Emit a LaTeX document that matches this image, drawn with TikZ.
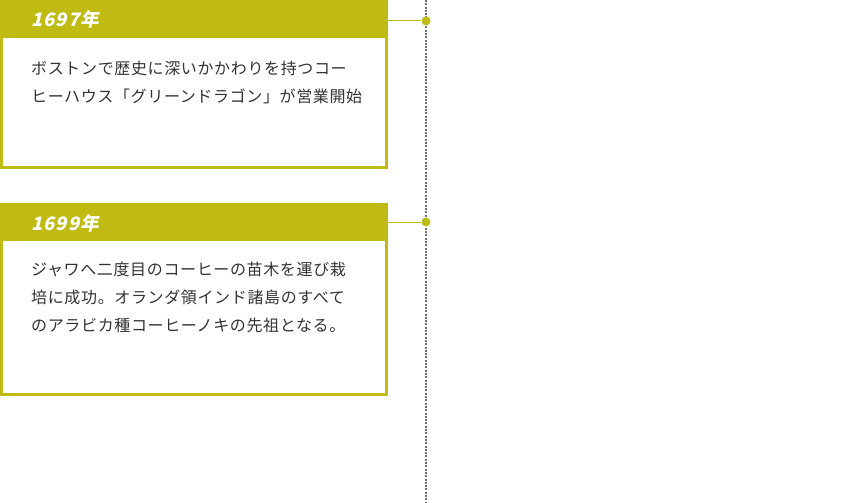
\documentclass[tikz,border=0pt]{standalone}
\usepackage{fontspec}
\usetikzlibrary{positioning}
\newfontfamily\jpfont[LetterSpace=4]{Noto Sans CJK JP}
\newfontfamily\yearfont[FakeSlant=0.22,LetterSpace=6]{Noto Sans CJK JP}
\definecolor{olive}{HTML}{BFBB13}
\definecolor{inkgray}{HTML}{333333}
\definecolor{railgray}{HTML}{6E6E6E}

\begin{document}
\begin{tikzpicture}[
  x=1pt, y=-1pt,
  card/.style={draw=olive, line width=3pt, fill=white, inner sep=0pt,
    minimum width=385pt, anchor=north west},
  head/.style={fill=olive, inner sep=0pt, minimum width=388pt,
    minimum height=38pt, anchor=north west},
  year/.style={font=\yearfont\bfseries\fontsize{18.5pt}{18.5pt}\selectfont,
    text=white, inner sep=0pt, anchor=base west},
  story/.style={font=\jpfont\fontsize{16pt}{28pt}\selectfont,
    text=inkgray, inner sep=0pt, align=left, anchor=north west},
  dot/.style={circle, fill=olive, inner sep=0pt, minimum size=9pt},
  link/.style={draw=olive, line width=1pt}
]
\useasboundingbox (0,0) rectangle (851,503);

% timeline rail
\coordinate (railtop) at (426,0);
\coordinate (railend) at (426,503);
\draw[railgray, line width=2pt, dash pattern=on 2pt off 1.3pt] (railtop) -- (railend);

% 1697
\node[card, minimum height=166pt] (card1) at (0,0) {};
\node[head] (head1) at (0,0) {};
\node[year] (year1) at (31,27) {1697年};
\node[story] (text1) at (31,61) {ボストンで歴史に深いかかわりを持つコー\\ヒーハウス「グリーンドラゴン」が営業開始};
\node[dot] (dot1) at (426,21) {};
\draw[link] (dot1) -- (dot1 -| head1.east);

% 1699
\node[card, minimum height=190pt] (card2) at (0,203) {};
\node[head] (head2) at (0,203) {};
\node[year] (year2) at (31,230) {1699年};
\node[story] (text2) at (31,262) {ジャワへ二度目のコーヒーの苗木を運び栽\\培に成功。オランダ領インド諸島のすべて\\のアラビカ種コーヒーノキの先祖となる。};
\node[dot] (dot2) at (426,222) {};
\draw[link] (dot2) -- (dot2 -| head2.east);
\end{tikzpicture}
\end{document}
